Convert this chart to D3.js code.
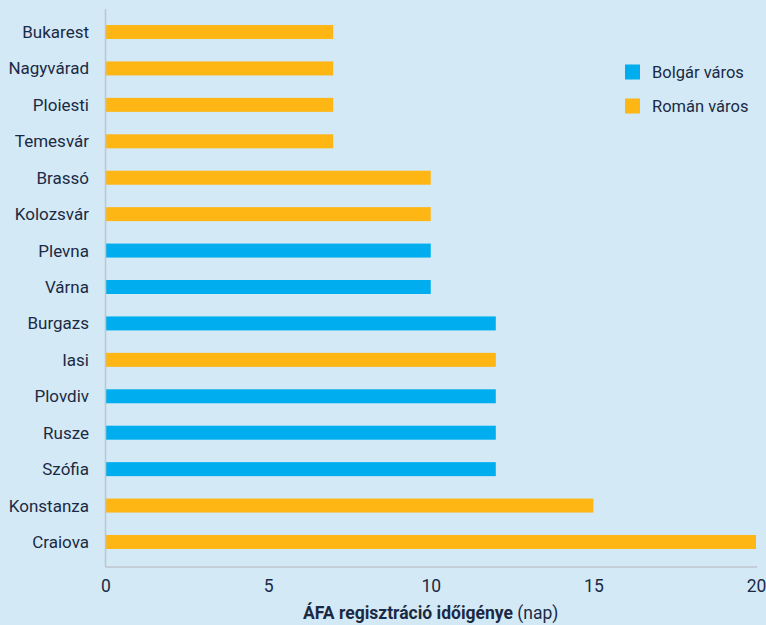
<!DOCTYPE html>
<html>
<head>
<meta charset="utf-8">
<script src="https://cdn.jsdelivr.net/npm/d3@7/dist/d3.min.js"></script>
<style>
  html, body { margin: 0; padding: 0; background: #d3e9f6; }
  svg { display: block; }
  text { font-family: Roboto, "Noto Sans", sans-serif; fill: #1b2a44; }
</style>
</head>
<body>
<svg id="chart" width="766" height="625"></svg>
<script>
// Cities, top to bottom
const cities = ["Bukarest", "Nagyvárad", "Ploiesti", "Temesvár", "Brassó", "Kolozsvár",
  "Plevna", "Várna", "Burgazs", "Iasi", "Plovdiv", "Rusze", "Szófia", "Konstanza", "Craiova"];
// Days needed for VAT registration
const days = [7, 7, 7, 7, 10, 10, 10, 10, 12, 12, 12, 12, 12, 15, 20];
// Country of each city: "bg" = Bulgarian, "ro" = Romanian
const country = ["ro", "ro", "ro", "ro", "ro", "ro", "bg", "bg", "bg", "ro", "bg", "bg", "bg", "ro", "ro"];
const xTicks = [0, 5, 10, 15, 20];
const legendKeys = ["bg", "ro"];
const legendLabels = ["Bolgár város", "Román város"];

const colors = { bg: "#00aeef", ro: "#fdb614" };

const svg = d3.select("#chart");
svg.append("rect").attr("width", 766).attr("height", 625).attr("fill", "#d3e9f6");

const x0 = 105.5, x1 = 756, yTop = 9, yBase = 567;

const x = d3.scaleLinear().domain([0, 20]).range([x0, x1]);
const y = d3.scaleBand().domain(cities).range([13.8, 560.2])
  .paddingInner(0.616).paddingOuter(0.308);

// bars
svg.append("g").selectAll("rect")
  .data(cities)
  .join("rect")
  .attr("x", x(0))
  .attr("y", d => y(d))
  .attr("width", (d, i) => x(days[i]) - x(0))
  .attr("height", y.bandwidth())
  .attr("fill", (d, i) => colors[country[i]]);

// axis lines
svg.append("line").attr("x1", x0).attr("x2", x0).attr("y1", yTop).attr("y2", yBase)
  .attr("stroke", "#bcc6cc").attr("stroke-width", 1.5);
svg.append("line").attr("x1", x0).attr("x2", x1 + 1).attr("y1", yBase).attr("y2", yBase)
  .attr("stroke", "#bcc6cc").attr("stroke-width", 1.5);

// category labels
svg.append("g").selectAll("text")
  .data(cities)
  .join("text")
  .attr("x", 89)
  .attr("y", d => y(d) + y.bandwidth() / 2)
  .attr("dy", "0.35em")
  .attr("text-anchor", "end")
  .attr("font-size", 17)
  .text(d => d);

// x tick labels
const xAxis = d3.axisBottom(x).tickValues(xTicks).tickSize(0).tickPadding(0);
const gx = svg.append("g").attr("transform", `translate(0,${yBase})`).call(xAxis);
gx.select(".domain").remove();
gx.attr("font-family", null).attr("font-size", null);
gx.selectAll("text")
  .attr("y", 19).attr("dy", "0.35em")
  .attr("font-size", 17.5)
  .attr("fill", "#1b2a44");

// axis title
const title = svg.append("text")
  .attr("x", x(10))
  .attr("y", 613)
  .attr("dy", "0.35em")
  .attr("text-anchor", "middle")
  .attr("font-size", 17.5);
title.append("tspan").attr("font-weight", "bold").text("ÁFA regisztráció időigénye");
title.append("tspan").text(" (nap)");

// legend
const lg = svg.append("g").selectAll("g")
  .data(legendKeys)
  .join("g")
  .attr("transform", (d, i) => `translate(625,${72 + i * 34})`);
lg.append("rect").attr("x", 0).attr("y", -7.5).attr("width", 15).attr("height", 15)
  .attr("fill", d => colors[d]);
lg.append("text").attr("x", 27).attr("dy", "0.35em").attr("font-size", 16.5)
  .text((d, i) => legendLabels[i]);
</script>
</body>
</html>
